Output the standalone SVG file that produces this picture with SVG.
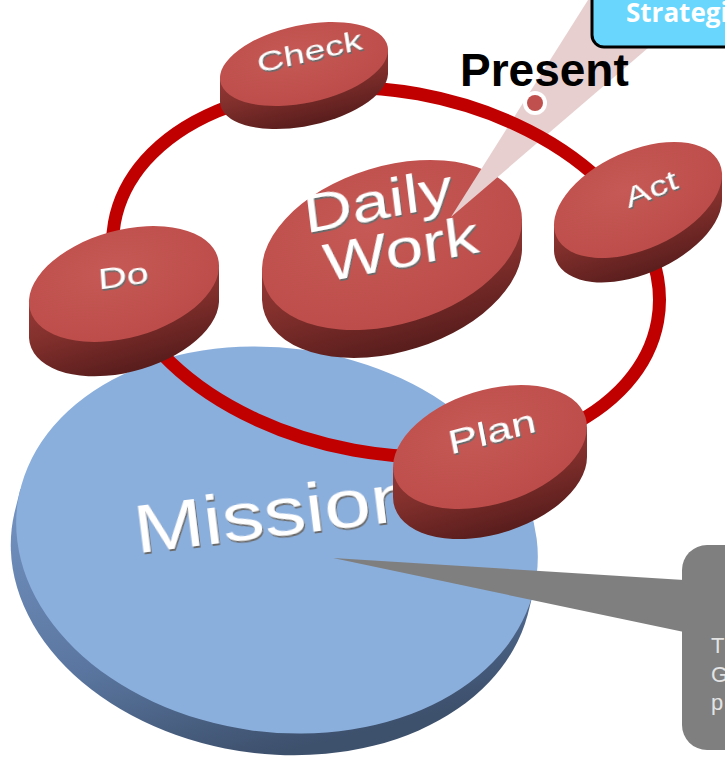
<svg xmlns="http://www.w3.org/2000/svg" width="725" height="760" viewBox="0 0 725 760">
<defs>
<radialGradient id="redFace" cx="0.45" cy="0.35" r="0.7">
<stop offset="0" stop-color="#c65955"/>
<stop offset="1" stop-color="#bb4b48"/>
</radialGradient>
<linearGradient id="redSide" x1="0" y1="0" x2="0.5" y2="1">
<stop offset="0" stop-color="#a8423f"/>
<stop offset="0.55" stop-color="#83302d"/>
<stop offset="1" stop-color="#561c1b"/>
</linearGradient>
<linearGradient id="blueSide" x1="0" y1="0" x2="0.5" y2="1">
<stop offset="0" stop-color="#7594c2"/>
<stop offset="0.6" stop-color="#5a76a0"/>
<stop offset="1" stop-color="#3d506c"/>
</linearGradient>
<filter id="emb" x="-10%" y="-20%" width="120%" height="150%">
<feOffset in="SourceAlpha" dx="1" dy="2.5" result="o"/>
<feFlood flood-color="#6b6b6b"/>
<feComposite in2="o" operator="in" result="s"/>
<feMerge><feMergeNode in="s"/><feMergeNode in="SourceGraphic"/></feMerge>
</filter>
<style>
.face{fill:url(#redFace)}
.side{fill:url(#redSide)}
.lbl{font-family:"Liberation Sans",Arial,sans-serif;fill:#ffffff;text-anchor:middle;filter:url(#emb)}
</style>
</defs>

<g id="mission">
<path d="M20.4,489 L14.4,513 A262 192 8 0 0 527.6,615 L533.6,591 Z" fill="url(#blueSide)"/>
<ellipse cx="277" cy="540" rx="262" ry="192" transform="rotate(8 277 540)" fill="#8bafdc"/>
<text class="lbl" font-size="84" transform="translate(278,536) rotate(-7) scale(1,0.82)">Mission</text>
</g>

<g id="daily-work">
<path d="M262,270 L262,300 A133.8 79 -16.95 0 0 522,250 L522,220 Z" class="side"/>
<ellipse cx="392" cy="245" rx="133.8" ry="79" transform="rotate(-16.95 392 245)" class="face"/>
<text class="lbl" font-size="68" transform="translate(380,219) rotate(-11) skewX(-4) scale(1,0.8)">Daily</text>
<text class="lbl" font-size="68" transform="translate(403,267) rotate(-11) skewX(-4) scale(1,0.8)">Work</text>
</g>

<g id="present-pointer">
<polygon points="451,217 588,0 690,0 655,42" fill="#e8cfcf"/>
</g>

<g id="connectors">
<ellipse cx="386" cy="272" rx="276" ry="181" transform="rotate(10.3 386 272)" fill="none" stroke="#c00000" stroke-width="13"/>
</g>

<g id="check">
<path d="M220,78 L220,102 A85.5 38.9 -12 0 0 388,74 L388,50 Z" class="side"/>
<ellipse cx="304" cy="64" rx="85.5" ry="38.9" transform="rotate(-12 304 64)" class="face"/>
<text class="lbl" font-size="38" transform="translate(311,61) rotate(-13) skewX(-4) scale(1,0.75)">Check</text>
</g>

<g id="act">
<path d="M554,225 L554,251 A89.5 49.1 -24.3 0 0 722,201 L722,175 Z" class="side"/>
<ellipse cx="638" cy="200" rx="89.5" ry="49.1" transform="rotate(-24.3 638 200)" class="face"/>
<text class="lbl" font-size="38" transform="translate(654,198) rotate(-22) skewX(-4) scale(1,0.75)">Act</text>
</g>

<g id="do">
<path d="M29,302 L29,338 A97.5 53.7 -15.5 0 0 219,302 L219,266 Z" class="side"/>
<ellipse cx="124" cy="284" rx="97.5" ry="53.7" transform="rotate(-15.5 124 284)" class="face"/>
<text class="lbl" font-size="40" transform="translate(124,286) rotate(-8) skewX(-4) scale(1,0.75)">Do</text>
</g>

<g id="plan">
<path d="M393,467 L393,497 A100 56.9 -17.4 0 0 587,457 L587,427 Z" class="side"/>
<ellipse cx="490" cy="447" rx="100" ry="56.9" transform="rotate(-17.4 490 447)" class="face"/>
<text class="lbl" font-size="45" transform="translate(494,443) rotate(-15) skewX(-4) scale(1,0.75)">Plan</text>
</g>

<g id="mission-callout">
<polygon points="333,558 684,580 684,632" fill="#7f7f7f"/>
<rect x="682" y="545" width="90" height="205" rx="25" fill="#7f7f7f"/>
<g font-family="'Liberation Sans',Arial,sans-serif" font-size="22" fill="#e3e3e3">
<text x="711" y="653">T</text>
<text x="711" y="682">G</text>
<text x="711" y="710">p</text>
</g>
</g>

<g id="present">
<circle cx="535" cy="103" r="12" fill="#ffffff"/>
<circle cx="535" cy="103" r="8" fill="#c0504d"/>
<text x="460" y="86" font-family="'Liberation Sans',Arial,sans-serif" font-weight="bold" font-size="46" fill="#000000">Present</text>
</g>

<g id="strategic">
<rect x="592" y="-20" width="160" height="67" rx="12" fill="#69d6fd" stroke="#000000" stroke-width="3"/>
<text x="626" y="22" font-family="'Open Sans','Liberation Sans',sans-serif" font-weight="bold" font-size="26" fill="#ffffff">Strategi</text>
</g>
</svg>
